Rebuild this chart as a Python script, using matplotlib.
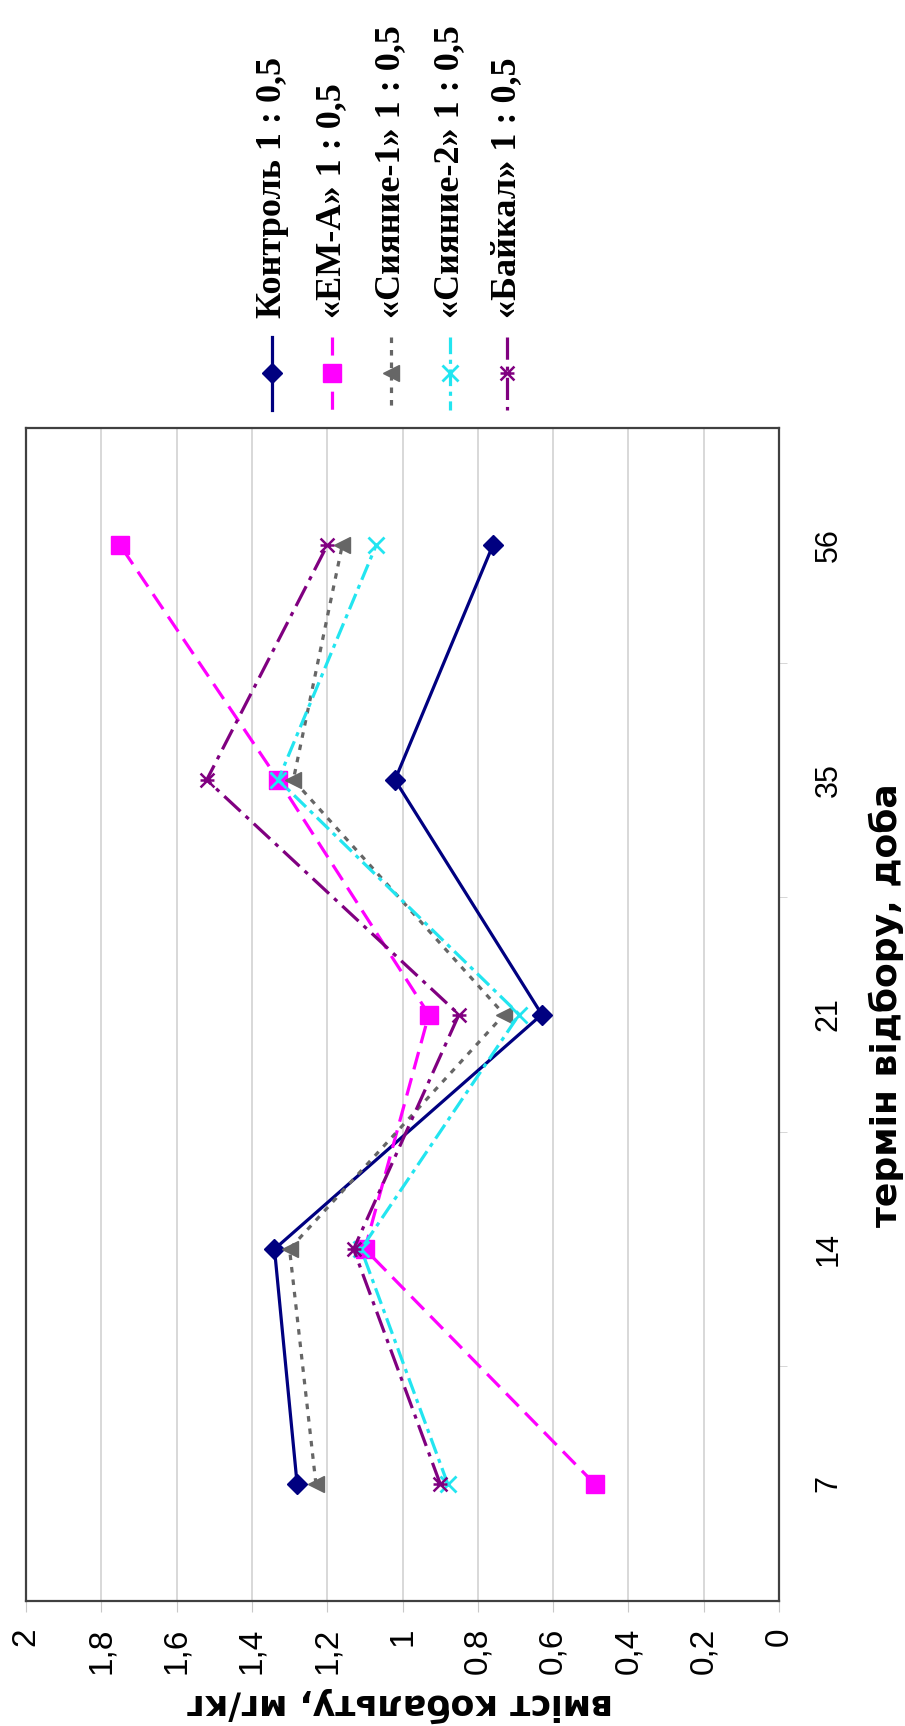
import matplotlib
matplotlib.use('Agg')
import matplotlib.pyplot as plt
from matplotlib.lines import Line2D
from matplotlib.path import Path

# ---------------- data ----------------
days = ['7', '14', '21', '35', '56']
control = [1.28, 1.34, 0.63, 1.02, 0.76]
em_a = [0.49, 1.10, 0.93, 1.33, 1.75]
siyanie1 = [1.23, 1.30, 0.73, 1.29, 1.16]
siyanie2 = [0.88, 1.11, 0.69, 1.33, 1.07]
baikal = [0.90, 1.13, 0.85, 1.52, 1.20]
series_names = ['Контроль 1 : 0,5', '«ЕМ-А» 1 : 0,5', '«Сияние-1» 1 : 0,5',
                '«Сияние-2» 1 : 0,5', '«Байкал» 1 : 0,5']
value_ticks = [0, 0.2, 0.4, 0.6, 0.8, 1.0, 1.2, 1.4, 1.6, 1.8, 2.0]
value_labels = ['0', '0,2', '0,4', '0,6', '0,8', '1', '1,2', '1,4', '1,6', '1,8', '2']
x_title = 'термін відбору, доба'
y_title = 'вміст кобальту, мг/кг'

plt.rcParams['lines.scale_dashes'] = False
plt.rcParams['font.family'] = ['Liberation Sans', 'DejaVu Sans']

W, H = 905, 1726
fig = plt.figure(figsize=(W / 100, H / 100), dpi=100)
fig.patch.set_facecolor('white')


def fx(x):
    return x / W


def fy(y):
    return 1 - y / H


# plot box (the whole chart is turned 90 degrees counter-clockwise)
L, R, T, B = 26, 779, 428, 1601
ax = fig.add_axes([fx(L), fy(B), (R - L) / W, (B - T) / H])

star = Path([(-1, -1), (1, 1), (-1, 1), (1, -1), (-1, 0), (1, 0)],
            [Path.MOVETO, Path.LINETO, Path.MOVETO, Path.LINETO, Path.MOVETO, Path.LINETO])

series = [control, em_a, siyanie1, siyanie2, baikal]
styles = [
    dict(color='#000080', linestyle='-', marker='D', markersize=10.5, mfc='#000080', mec='#000080'),
    dict(color='#FF00FF', dashes=(13, 6.5), marker='s', markersize=12.5, mfc='#FF00FF', mec='#FF00FF'),
    dict(color='#666666', dashes=(4, 5), marker='<', markersize=12, mfc='#666666', mec='#666666'),
    dict(color='#22E5F0', dashes=(12, 4, 3, 4), marker='x', markersize=12, mew=2, mec='#22E5F0'),
    dict(color='#800080', dashes=(16, 5, 3, 5), marker=star, markersize=10, mew=1.8, mec='#800080', fillstyle='none'),
]

idx = list(range(len(days)))
for vals, st in zip(series, styles):
    ax.plot(vals, idx, lw=2.3, **st, zorder=3)

ax.set_xlim(2, 0)
ax.set_ylim(-0.5, len(days) - 0.5)
ax.set_xticks(value_ticks)
ax.set_xticklabels(value_labels)
ax.grid(axis='x', color='#d2d2d2', lw=1.2)
ax.set_axisbelow(True)
ax.tick_params(axis='x', length=8, color='#c8c8c8', labelsize=24, labelrotation=90, pad=11)

ax.yaxis.tick_right()
ax.set_yticks(idx)
ax.set_yticklabels(days)
ax.set_yticks([i + 0.5 for i in idx[:-1]], minor=True)
ax.tick_params(axis='y', which='major', length=0, labelsize=22, labelrotation=90, pad=25)
ax.tick_params(axis='y', which='minor', length=6, color='#d0d0d0')
for lab in ax.get_yticklabels():
    lab.set_va('center')

for sp in ax.spines.values():
    sp.set_color('#404040')
    sp.set_linewidth(1.6)

# axis titles
fig.text(fx(886), fy(1005), x_title, rotation=90, ha='center', va='center',
         fontsize=26, fontweight='bold', family=['DejaVu Sans'])
fig.text(fx(400), fy(1705), y_title, rotation=180, ha='center', va='center',
         fontsize=25, fontweight='bold', family=['DejaVu Sans'])

# legend (rotated, drawn by hand)
leg_x = [272, 332, 391, 450, 507]
for name, st, x in zip(series_names, styles, leg_x):
    ln = Line2D([fx(x)] * 3, [fy(337), fy(373), fy(410)], lw=2.3, markevery=[1],
                transform=fig.transFigure, **st)
    fig.add_artist(ln)
    fig.text(fx(x), fy(318), name, rotation=90, ha='center', va='bottom',
             fontsize=26, fontweight='bold', family=['Liberation Serif', 'DejaVu Serif'])

fig.savefig('out.png', dpi=100, facecolor='white')
